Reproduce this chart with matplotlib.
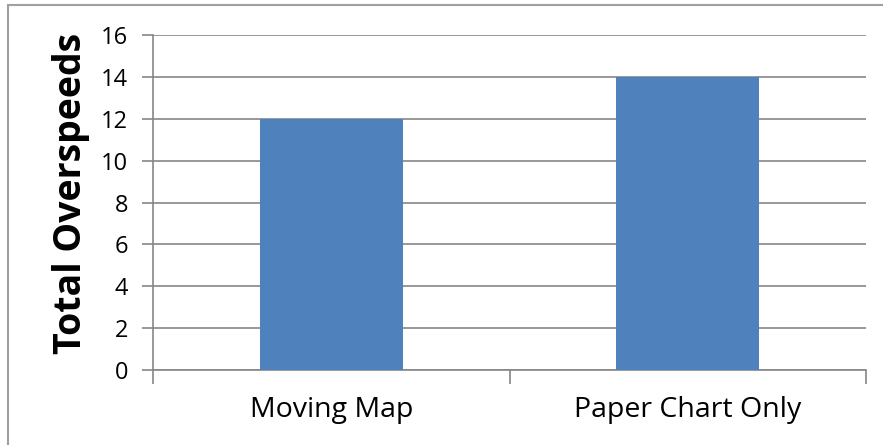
import matplotlib
matplotlib.use("Agg")
import matplotlib.pyplot as plt
from matplotlib.patches import Rectangle

categories = ["Moving Map", "Paper Chart Only"]
overspeeds = [12, 14]
y_ticks = [0, 2, 4, 6, 8, 10, 12, 14, 16]

bar_color = "#4F81BD"
grid_color = "#868686"
font = "Open Sans"

fig = plt.figure(figsize=(8.83, 4.45), dpi=100)
ax = fig.add_axes([153 / 883, 1 - 370 / 445, (866 - 153) / 883, (370 - 35) / 445])

positions = list(range(len(categories)))
ax.bar(positions, overspeeds, width=0.4, color=bar_color, zorder=3)

ax.set_xlim(-0.5, len(categories) - 0.5)
ax.set_ylim(0, 16)
ax.set_yticks(y_ticks)
ax.set_yticklabels([str(v) for v in y_ticks], fontsize=17, fontfamily=font)
ax.yaxis.grid(True, color=grid_color, linewidth=1.2, zorder=0)
ax.tick_params(axis="y", length=8, width=1.2, color=grid_color, pad=10)

# category labels centred, tick marks on the category boundaries
ax.set_xticks(positions)
ax.set_xticklabels(categories, fontsize=20.5, fontfamily=font)
ax.set_xticks([p - 0.5 for p in positions] + [positions[-1] + 0.5], minor=True)
ax.tick_params(axis="x", which="major", length=0, pad=19)
ax.tick_params(axis="x", which="minor", length=10, width=1.2, color=grid_color)

for side in ("top", "right"):
    ax.spines[side].set_visible(False)
for side in ("left", "bottom"):
    ax.spines[side].set_color(grid_color)
    ax.spines[side].set_linewidth(1.2)

ax.set_ylabel("Total Overspeeds", fontsize=27, fontweight="bold", fontfamily=font)
ax.yaxis.set_label_coords(-0.088, 0.527)

# chart area border
fig.patches.append(Rectangle((8 / 883, -0.05), 1.2, 1 - 5 / 445 + 0.05,
                             transform=fig.transFigure, fill=False,
                             edgecolor="#A0A0A0", linewidth=1.5))

fig.savefig("out.png", dpi=100)
